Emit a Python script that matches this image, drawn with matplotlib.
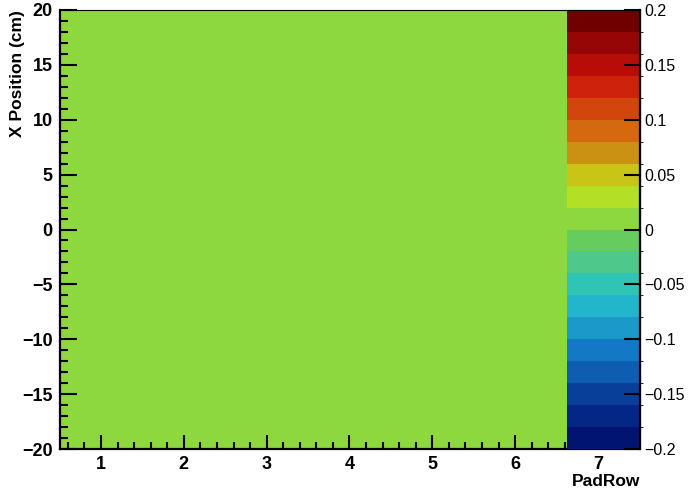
import numpy as np
import matplotlib
matplotlib.use('Agg')
import matplotlib.pyplot as plt
from matplotlib.colors import ListedColormap, BoundaryNorm
from matplotlib.ticker import MultipleLocator, FuncFormatter

# pad rows and residual mean per row (one bin in X position covering -20..20 cm)
pad_rows = [1, 2, 3, 4, 5, 6, 7]
x_pos_edges = [-20.0, 20.0]
residuals = [0.01, 0.01, 0.01, 0.01, 0.01, 0.01, 0.01]

# ROOT rainbow-like palette, 20 contours from -0.2 to 0.2
palette = ['#011470', '#042685', '#083f99', '#0e5db0', '#1379c6',
           '#1a9ac9', '#22b6cc', '#30c4b5', '#4ec98b', '#66cc5e',
           '#8ed83f', '#b3e024', '#c9c516', '#cb9112', '#d4690f',
           '#d2460d', '#cf220b', '#b80c09', '#960606', '#700000']
levels = np.linspace(-0.2, 0.2, 21)

plt.rcParams['font.family'] = ['Liberation Sans', 'DejaVu Sans']

fig = plt.figure(figsize=(6.9, 4.93), dpi=100)
W, H = 690.0, 493.0
ax = fig.add_axes([59.5 / W, (H - 449) / H, 580 / W, 439 / H])
cax = fig.add_axes([567 / W, (H - 449) / H, 73 / W, 439 / H])

cmap = ListedColormap(palette)
norm = BoundaryNorm(levels, cmap.N)
xedges = np.array(pad_rows + [pad_rows[-1] + 1]) - 0.5
Z = np.array([residuals])
mesh = ax.pcolormesh(xedges, x_pos_edges, Z, cmap=cmap, norm=norm)

ax.set_xlim(0.5, 7.5)
ax.set_ylim(-20, 20)
ax.xaxis.set_major_locator(MultipleLocator(1))
ax.xaxis.set_minor_locator(MultipleLocator(0.2))
ax.yaxis.set_major_locator(MultipleLocator(5))
ax.yaxis.set_minor_locator(MultipleLocator(1))
ax.tick_params(axis='x', which='major', direction='in', length=10, width=1.5,
               labelsize=13, pad=5)
ax.tick_params(axis='x', which='minor', direction='in', length=5, width=1.5)
ax.tick_params(axis='y', which='major', direction='in', length=12.5, width=1.5,
               labelsize=13, pad=5)
ax.tick_params(axis='y', which='minor', direction='in', length=6, width=1.5)
for lab in ax.get_xticklabels() + ax.get_yticklabels():
    lab.set_fontweight('bold')
ax.spines['left'].set_linewidth(1.6)
ax.spines['bottom'].set_linewidth(1.6)
ax.spines['top'].set_linewidth(0.8)
ax.spines['right'].set_linewidth(0.8)


def cb_fmt(v, p):
    s = '%g' % (round(v, 3) + 0.0)
    return s.replace('-', '\u2212')


cb = fig.colorbar(mesh, cax=cax, ticks=np.arange(-0.2, 0.201, 0.05))
cb.outline.set_visible(False)
cb.ax.yaxis.set_major_formatter(FuncFormatter(cb_fmt))
cax.tick_params(axis='y', direction='in', length=11.5, width=1.5, labelsize=11.5, pad=3)
cax.plot([1, 1], [0, 1], transform=cax.transAxes, color='k', lw=1.6, clip_on=False)
cax.plot([0, 1], [1, 1], transform=cax.transAxes, color='k', lw=0.8, clip_on=False)

fig.text(18 / W, 1 - 10 / H, 'X Position (cm)', rotation=90, ha='center', va='top',
         fontsize=12.5, fontweight='bold')
fig.text(640 / W, 1 - 482 / H, 'PadRow', ha='right', va='center',
         fontsize=12.5, fontweight='bold')

fig.savefig('out.png', dpi=100)
